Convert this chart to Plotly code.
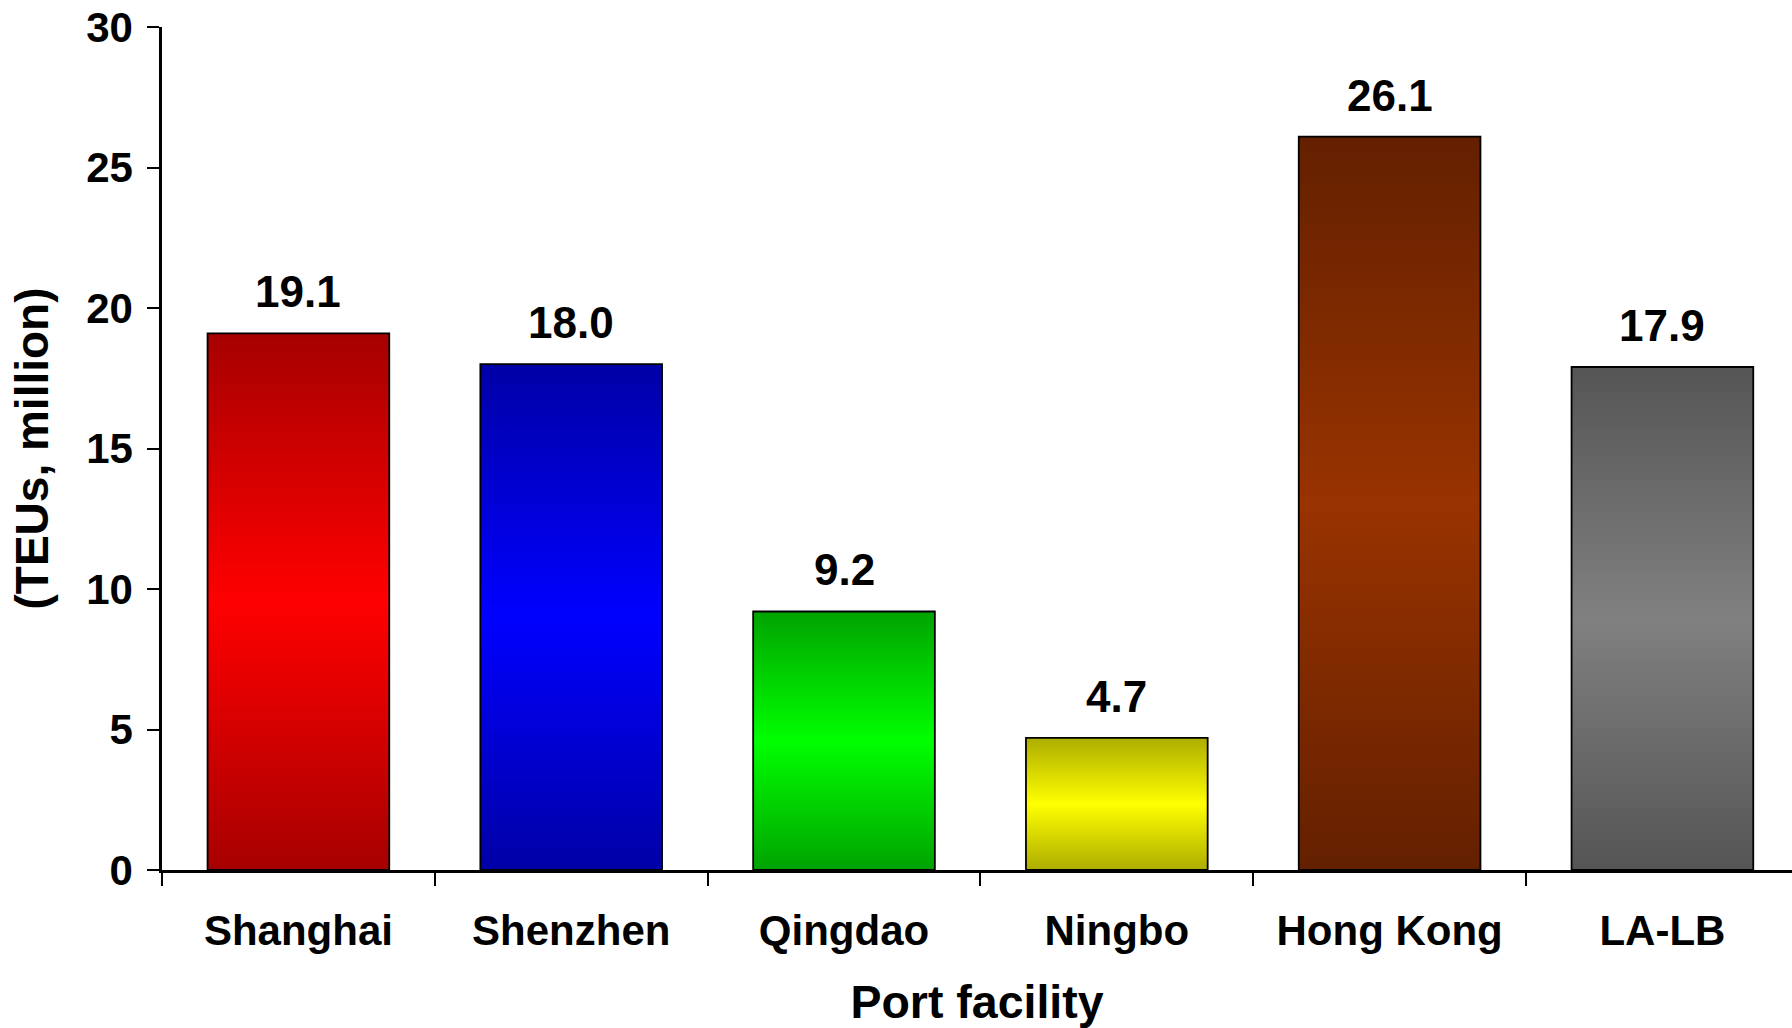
import plotly.graph_objects as go

ports = ["Shanghai", "Shenzhen", "Qingdao", "Ningbo", "Hong Kong", "LA-LB"]
teus = [19.1, 18.0, 9.2, 4.7, 26.1, 17.9]
dark_colors = ["#A60000", "#0000A6", "#00A300", "#ADAD00", "#632000", "#555555"]
bright_colors = ["#FF0000", "#0000FF", "#00FF00", "#FFFF00", "#993300", "#808080"]
y_ticks = [0, 5, 10, 15, 20, 25, 30]

BAR_W = 0.666
FONT = "Liberation Sans, Arial, sans-serif"

fig = go.Figure()
for i, (name, v, dk, br) in enumerate(zip(ports, teus, dark_colors, bright_colors)):
    x0, x1 = i - BAR_W / 2, i + BAR_W / 2
    fig.add_trace(go.Scatter(
        x=[x0, x1, x1, x0, x0],
        y=[0, 0, v, v, 0],
        mode="lines",
        fill="toself",
        fillgradient=dict(type="vertical", start=0, stop=v,
                          colorscale=[[0, dk], [0.5, br], [1, dk]]),
        line=dict(color="black", width=1.8),
        name=name,
        hoverinfo="skip",
        showlegend=False,
    ))
    fig.add_annotation(
        x=i, y=v, text=f"{v:.1f}", showarrow=False,
        yanchor="bottom", yshift=15,
        font=dict(family=FONT, size=44, color="black", weight="bold"),
    )

fig.update_layout(
    width=1792, height=1028,
    margin=dict(l=162, r=0, t=27, b=158),
    paper_bgcolor="white", plot_bgcolor="white",
    showlegend=False,
)
fig.update_xaxes(
    range=[-0.5, 5.475],
    tickmode="array", tickvals=list(range(len(ports))), ticktext=ports,
    ticks="", ticklabelstandoff=22,
    tickfont=dict(family=FONT, size=42, color="black", weight="bold"),
    minor=dict(tickmode="array", tickvals=[i - 0.5 for i in range(len(ports) + 1)],
               ticks="outside", ticklen=13, tickwidth=2, tickcolor="black", showgrid=False),
    showline=True, linecolor="black", linewidth=2.5,
    showgrid=False, zeroline=False,
    title=dict(text="Port facility", standoff=38,
               font=dict(family=FONT, size=46.5, color="black", weight="bold")),
)
fig.update_yaxes(
    range=[0, 30], tickmode="array", tickvals=y_ticks,
    ticks="outside", ticklen=12, tickwidth=2, tickcolor="black",
    ticklabelstandoff=6,
    tickfont=dict(family=FONT, size=42, color="black", weight="bold"),
    showline=True, linecolor="black", linewidth=2.5,
    showgrid=False, zeroline=False,
    title=dict(text="(TEUs, million)", standoff=24,
               font=dict(family=FONT, size=46, color="black", weight="bold")),
)

fig.write_html("out.html")
